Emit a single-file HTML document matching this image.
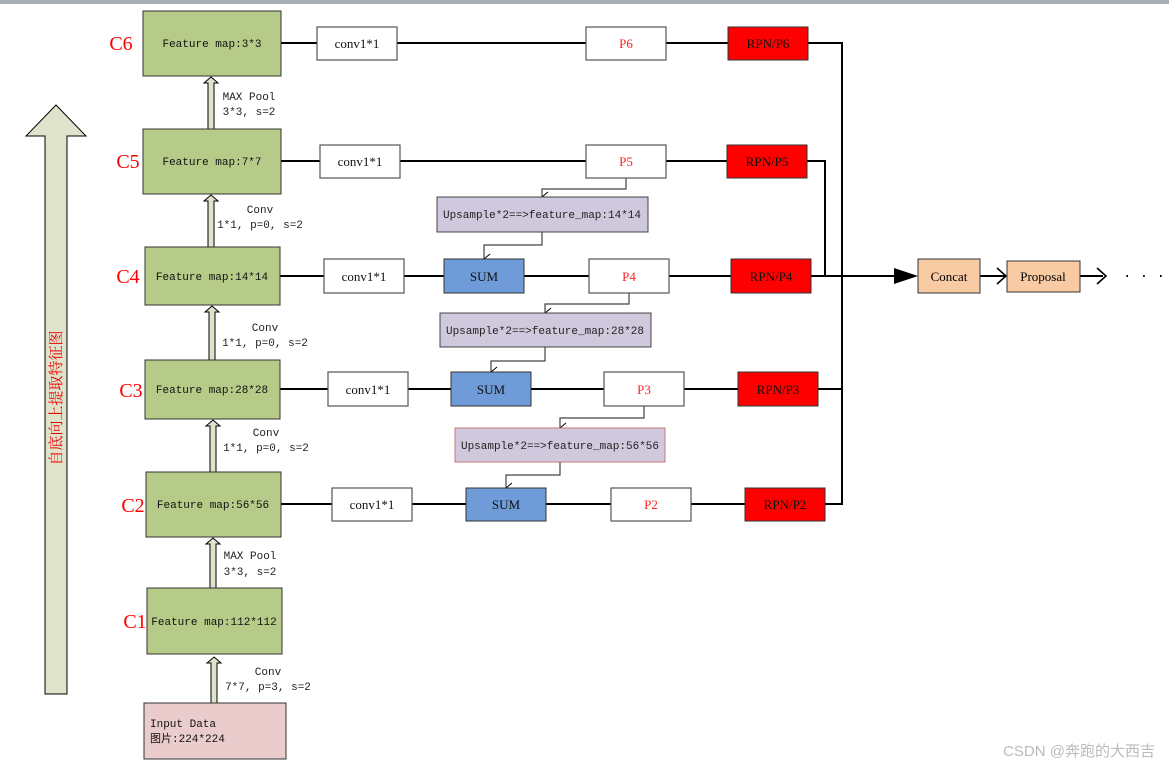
<!DOCTYPE html>
<html><head><meta charset="utf-8"><style>
html,body{margin:0;padding:0;background:#fff;}
svg{display:block;}
text{font-family:"Liberation Mono","Noto Sans CJK SC",monospace;}
.s{font-family:"Liberation Serif","Noto Serif CJK SC",serif;}
</style></head><body>
<svg width="1169" height="768" viewBox="0 0 1169 768" xmlns="http://www.w3.org/2000/svg">
<defs>
<marker id="oa" markerWidth="12" markerHeight="12" refX="6" refY="10" orient="auto-start-reverse" markerUnits="userSpaceOnUse"><path d="M1,4 L6,10 L11,4" fill="none" stroke="#000" stroke-width="1"/></marker>
</defs>
<rect x="0" y="0" width="1169" height="4" fill="#a8adb5"/>
<!-- big arrow -->
<path d="M56,105 L86,136 L67,136 L67,694 L45,694 L45,136 L26,136 Z" fill="#dfe3cc" stroke="#000" stroke-width="1"/>
<text x="0" y="0" transform="translate(61,398) rotate(-90)" text-anchor="middle" font-size="15" fill="#e00" style="font-family:'Noto Serif CJK SC','Noto Sans CJK SC',serif">自底向上提取特征图</text>

<!-- horizontal lines -->
<g stroke="#000" stroke-width="2" fill="none">
<line x1="281" y1="43" x2="728" y2="43"/>
<line x1="281" y1="161" x2="727" y2="161"/>
<line x1="280" y1="276" x2="731" y2="276"/>
<line x1="280" y1="389" x2="738" y2="389"/>
<line x1="281" y1="504" x2="745" y2="504"/>
<polyline points="808,43 842,43 842,504 825,504"/>
<line x1="818" y1="389" x2="842" y2="389"/>
<polyline points="807,161 825,161 825,276 811,276"/>
<line x1="811" y1="276" x2="895" y2="276"/>
<line x1="980" y1="276" x2="1005" y2="276"/>
<line x1="1080" y1="276" x2="1103" y2="276"/>
</g>
<path d="M894,268 L918,276 L894,284 Z" fill="#000"/>
<path d="M997,268 L1006,276 L997,284" fill="none" stroke="#000" stroke-width="1.6"/>
<path d="M1097,268 L1106,276 L1097,284" fill="none" stroke="#000" stroke-width="1.6"/>
<text x="1123" y="280" font-size="14">· · ·</text>

<!-- upsample connectors -->
<g stroke="#444" stroke-width="1.2" fill="none">
<polyline points="626,178 626,189 542,189 542,197" marker-end="url(#oa)"/>
<polyline points="542,232 542,245 484,245 484,259" marker-end="url(#oa)"/>
<polyline points="629,293 629,304 545,304 545,313" marker-end="url(#oa)"/>
<polyline points="545,347 545,361 491,361 491,372" marker-end="url(#oa)"/>
<polyline points="644,406 644,418 560,418 560,428" marker-end="url(#oa)"/>
<polyline points="560,462 560,475 506,475 506,488" marker-end="url(#oa)"/>
</g>

<!-- small up arrows -->
<g fill="#dfe3cc" stroke="#000" stroke-width="1">
<path d="M211,77 L218,83 L214,83 L214,129 L208,129 L208,83 L204,83 Z"/>
<path d="M211,195 L218,201 L214,201 L214,247 L208,247 L208,201 L204,201 Z"/>
<path d="M212,306 L219,312 L215,312 L215,360 L209,360 L209,312 L205,312 Z"/>
<path d="M213,420 L220,426 L216,426 L216,472 L210,472 L210,426 L206,426 Z"/>
<path d="M213,538 L220,544 L216,544 L216,588 L210,588 L210,544 L206,544 Z"/>
<path d="M214,657 L221,663 L217,663 L217,703 L211,703 L211,663 L207,663 Z"/>
</g>
<g font-size="11" fill="#222" text-anchor="middle">
<text x="249" y="100">MAX Pool</text><text x="249" y="115">3*3, s=2</text>
<text x="260" y="213">Conv</text><text x="260" y="228">1*1, p=0, s=2</text>
<text x="265" y="331">Conv</text><text x="265" y="346">1*1, p=0, s=2</text>
<text x="266" y="436">Conv</text><text x="266" y="451">1*1, p=0, s=2</text>
<text x="250" y="559">MAX Pool</text><text x="250" y="575">3*3, s=2</text>
<text x="268" y="675">Conv</text><text x="268" y="690">7*7, p=3, s=2</text>
</g>

<!-- C boxes -->
<g fill="#b7cb88" stroke="#333" stroke-width="1">
<rect x="143" y="11" width="138" height="65"/>
<rect x="143" y="129" width="138" height="65"/>
<rect x="145" y="247" width="135" height="58"/>
<rect x="145" y="360" width="135" height="59"/>
<rect x="146" y="472" width="135" height="65"/>
<rect x="147" y="588" width="135" height="66"/>
</g>
<rect x="144" y="703" width="142" height="56" fill="#eacccc" stroke="#333"/>
<g font-size="11" fill="#111" text-anchor="middle">
<text x="212" y="47">Feature map:3*3</text>
<text x="212" y="165">Feature map:7*7</text>
<text x="212" y="280">Feature map:14*14</text>
<text x="212" y="393">Feature map:28*28</text>
<text x="213" y="508">Feature map:56*56</text>
<text x="214" y="625">Feature map:112*112</text>
</g>
<text x="150" y="727" font-size="11" fill="#111">Input Data</text>
<text x="150" y="742" font-size="11" fill="#111">图片:224*224</text>
<g class="s" font-size="20" fill="#f00" text-anchor="middle">
<text class="s" x="121" y="50">C6</text>
<text class="s" x="128" y="168">C5</text>
<text class="s" x="128" y="283">C4</text>
<text class="s" x="131" y="397">C3</text>
<text class="s" x="133" y="512">C2</text>
<text class="s" x="135" y="628">C1</text>
</g>

<!-- conv boxes -->
<g fill="#fff" stroke="#555" stroke-width="1.2">
<rect x="317" y="27" width="80" height="33"/>
<rect x="320" y="145" width="80" height="33"/>
<rect x="324" y="259" width="80" height="34"/>
<rect x="328" y="372" width="80" height="34"/>
<rect x="332" y="488" width="80" height="33"/>
<rect x="586" y="27" width="80" height="33"/>
<rect x="586" y="145" width="80" height="33"/>
<rect x="589" y="259" width="80" height="34"/>
<rect x="604" y="372" width="80" height="34"/>
<rect x="611" y="488" width="80" height="33"/>
</g>
<g font-size="13" fill="#111" text-anchor="middle" class="s">
<text class="s" x="357" y="48">conv1*1</text>
<text class="s" x="360" y="166">conv1*1</text>
<text class="s" x="364" y="281">conv1*1</text>
<text class="s" x="368" y="394">conv1*1</text>
<text class="s" x="372" y="509">conv1*1</text>
</g>
<g font-size="13" fill="#f22" text-anchor="middle">
<text class="s" x="626" y="48">P6</text>
<text class="s" x="626" y="166">P5</text>
<text class="s" x="629" y="281">P4</text>
<text class="s" x="644" y="394">P3</text>
<text class="s" x="651" y="509">P2</text>
</g>
<!-- RPN -->
<g fill="#f00" stroke="#333" stroke-width="1">
<rect x="728" y="27" width="80" height="33"/>
<rect x="727" y="145" width="80" height="33"/>
<rect x="731" y="259" width="80" height="34"/>
<rect x="738" y="372" width="80" height="34"/>
<rect x="745" y="488" width="80" height="33"/>
</g>
<g font-size="13" fill="#111" text-anchor="middle">
<text class="s" x="768" y="48">RPN/P6</text>
<text class="s" x="767" y="166">RPN/P5</text>
<text class="s" x="771" y="281">RPN/P4</text>
<text class="s" x="778" y="394">RPN/P3</text>
<text class="s" x="785" y="509">RPN/P2</text>
</g>
<!-- SUM -->
<g fill="#6f9bd8" stroke="#333" stroke-width="1">
<rect x="444" y="259" width="80" height="34"/>
<rect x="451" y="372" width="80" height="34"/>
<rect x="466" y="488" width="80" height="33"/>
</g>
<g font-size="13" fill="#111" text-anchor="middle">
<text class="s" x="484" y="281">SUM</text>
<text class="s" x="491" y="394">SUM</text>
<text class="s" x="506" y="509">SUM</text>
</g>
<!-- upsample -->
<rect x="437" y="197" width="211" height="35" fill="#d0c8dc" stroke="#444"/>
<rect x="440" y="313" width="211" height="34" fill="#d0c8dc" stroke="#444"/>
<rect x="455" y="428" width="210" height="34" fill="#d0c8dc" stroke="#c77"/>
<g font-size="11" fill="#222" text-anchor="middle">
<text x="542" y="218">Upsample*2==&gt;feature_map:14*14</text>
<text x="545" y="334">Upsample*2==&gt;feature_map:28*28</text>
<text x="560" y="449">Upsample*2==&gt;feature_map:56*56</text>
</g>
<!-- concat/proposal -->
<rect x="918" y="259" width="62" height="34" fill="#f8cba5" stroke="#333"/>
<rect x="1007" y="261" width="73" height="31" fill="#f8cba5" stroke="#333"/>
<text class="s" x="949" y="281" font-size="13" text-anchor="middle">Concat</text>
<text class="s" x="1043" y="281" font-size="13" text-anchor="middle">Proposal</text>
<text x="1155" y="756" font-size="15" fill="#bbb" text-anchor="end" style="font-family:'Liberation Sans','Noto Sans CJK SC',sans-serif">CSDN @奔跑的大西吉</text>
</svg>
</body></html>
